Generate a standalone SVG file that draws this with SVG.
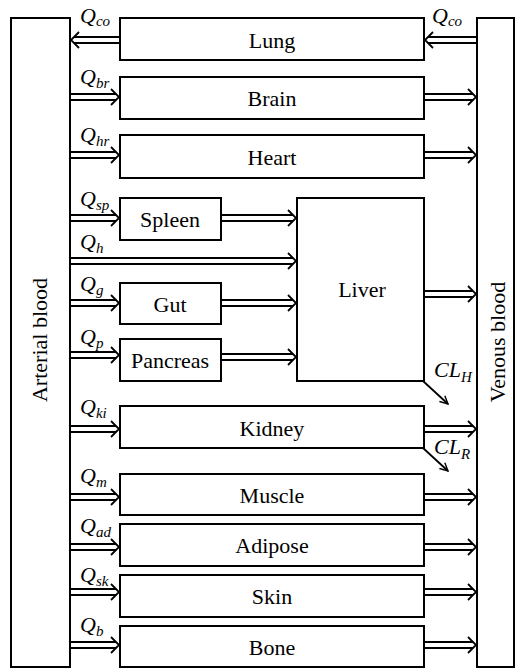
<svg xmlns="http://www.w3.org/2000/svg" width="525" height="670" viewBox="0 0 525 670">
<defs>
<style>
.box{fill:#fff;stroke:#000;stroke-width:2}
.lbl{font-family:'Liberation Serif','Times New Roman','DejaVu Serif',serif;font-size:22px;text-anchor:middle;dominant-baseline:central;fill:#000}
.q{font-family:'Liberation Serif','Times New Roman','DejaVu Serif',serif;font-style:italic;font-size:22px;fill:#000}
.sub{font-size:15px}
.arr{fill:none;stroke:#000;stroke-width:1.8}
</style>
<marker id="open" viewBox="0 0 10 10" refX="9" refY="5" markerWidth="10" markerHeight="10" markerUnits="userSpaceOnUse" orient="auto">
<path d="M1,1 L9,5 L1,9" fill="none" stroke="#000" stroke-width="1.4"/>
</marker>
</defs>
<rect width="525" height="670" fill="#fff"/>

<g id="arterial"><rect class="box" x="11" y="18" width="59" height="649"/>
<text class="lbl" transform="translate(39,340) rotate(-90)">Arterial blood</text></g>
<g id="venous"><rect class="box" x="477" y="18" width="37" height="649"/>
<text class="lbl" transform="translate(497,342) rotate(-90)">Venous blood</text></g>

<g id="lung"><rect class="box" x="120" y="18" width="304" height="42"/><text class="lbl" x="272" y="40">Lung</text></g>
<g id="brain"><rect class="box" x="120" y="77" width="304" height="42"/><text class="lbl" x="272" y="98">Brain</text></g>
<g id="heart"><rect class="box" x="120" y="135" width="304" height="43"/><text class="lbl" x="272" y="157">Heart</text></g>
<g id="spleen"><rect class="box" x="120" y="198" width="101" height="42"/><text class="lbl" x="170" y="219">Spleen</text></g>
<g id="gut"><rect class="box" x="120" y="283" width="101" height="41"/><text class="lbl" x="170" y="304">Gut</text></g>
<g id="pancreas"><rect class="box" x="120" y="339" width="101" height="42"/><text class="lbl" x="170" y="360">Pancreas</text></g>
<g id="liver"><rect class="box" x="297" y="198" width="127" height="183"/><text class="lbl" x="362" y="289">Liver</text></g>
<g id="kidney"><rect class="box" x="120" y="406" width="304" height="42"/><text class="lbl" x="272" y="428">Kidney</text></g>
<g id="muscle"><rect class="box" x="120" y="474" width="304" height="41"/><text class="lbl" x="272" y="495">Muscle</text></g>
<g id="adipose"><rect class="box" x="120" y="524" width="304" height="42"/><text class="lbl" x="272" y="545">Adipose</text></g>
<g id="skin"><rect class="box" x="120" y="575" width="304" height="42"/><text class="lbl" x="272" y="596">Skin</text></g>
<g id="bone"><rect class="box" x="120" y="626" width="304" height="41"/><text class="lbl" x="272" y="647">Bone</text></g>

<g id="connectors">
<path class="arr" d="M120,37 H74 M120,43 H74 M79,32 L71,40 L79,48"/>
<path class="arr" d="M477,37 H428 M477,43 H428 M433,32 L425,40 L433,48"/>
<path class="arr" d="M70,94 H116 M70,100 H116 M111,89 L119,97 L111,105"/>
<path class="arr" d="M70,152 H116 M70,158 H116 M111,147 L119,155 L111,163"/>
<path class="arr" d="M70,215 H116 M70,221 H116 M111,210 L119,218 L111,226"/>
<path class="arr" d="M70,300 H116 M70,306 H116 M111,295 L119,303 L111,311"/>
<path class="arr" d="M70,352 H116 M70,358 H116 M111,347 L119,355 L111,363"/>
<path class="arr" d="M70,426 H116 M70,432 H116 M111,421 L119,429 L111,437"/>
<path class="arr" d="M70,494 H116 M70,500 H116 M111,489 L119,497 L111,505"/>
<path class="arr" d="M70,544 H116 M70,550 H116 M111,539 L119,547 L111,555"/>
<path class="arr" d="M70,589 H116 M70,595 H116 M111,584 L119,592 L111,600"/>
<path class="arr" d="M70,642 H116 M70,648 H116 M111,637 L119,645 L111,653"/>
<path class="arr" d="M221,215 H293 M221,221 H293 M288,210 L296,218 L288,226"/>
<path class="arr" d="M70,258 H293 M70,264 H293 M288,253 L296,261 L288,269"/>
<path class="arr" d="M221,300 H293 M221,306 H293 M288,295 L296,303 L288,311"/>
<path class="arr" d="M221,354 H293 M221,360 H293 M288,349 L296,357 L288,365"/>
<path class="arr" d="M424,94 H473 M424,100 H473 M468,89 L476,97 L468,105"/>
<path class="arr" d="M424,152 H473 M424,158 H473 M468,147 L476,155 L468,163"/>
<path class="arr" d="M424,291 H473 M424,297 H473 M468,286 L476,294 L468,302"/>
<path class="arr" d="M424,426 H473 M424,432 H473 M468,421 L476,429 L468,437"/>
<path class="arr" d="M424,494 H473 M424,500 H473 M468,489 L476,497 L468,505"/>
<path class="arr" d="M424,544 H473 M424,550 H473 M468,539 L476,547 L468,555"/>
<path class="arr" d="M424,589 H473 M424,595 H473 M468,584 L476,592 L468,600"/>
<path class="arr" d="M424,642 H473 M424,648 H473 M468,637 L476,645 L468,653"/>
<path class="arr" d="M423,381 L448,404" marker-end="url(#open)"/>
<path class="arr" d="M423,448 L448,471" marker-end="url(#open)"/>
</g>

<g id="labels">
<text class="q" x="80" y="23">Q<tspan class="sub" dy="3">co</tspan></text>
<text class="q" x="432" y="23">Q<tspan class="sub" dy="3">co</tspan></text>
<text class="q" x="80" y="84">Q<tspan class="sub" dy="4">br</tspan></text>
<text class="q" x="80" y="142">Q<tspan class="sub" dy="4">hr</tspan></text>
<text class="q" x="80" y="206">Q<tspan class="sub" dy="4">sp</tspan></text>
<text class="q" x="80" y="249">Q<tspan class="sub" dy="4">h</tspan></text>
<text class="q" x="80" y="291">Q<tspan class="sub" dy="4">g</tspan></text>
<text class="q" x="80" y="344">Q<tspan class="sub" dy="4">p</tspan></text>
<text class="q" x="80" y="414">Q<tspan class="sub" dy="4">ki</tspan></text>
<text class="q" x="80" y="483">Q<tspan class="sub" dy="4">m</tspan></text>
<text class="q" x="80" y="533">Q<tspan class="sub" dy="4">ad</tspan></text>
<text class="q" x="80" y="582">Q<tspan class="sub" dy="4">sk</tspan></text>
<text class="q" x="80" y="632">Q<tspan class="sub" dy="4">b</tspan></text>
<text class="q" x="434" y="377">CL<tspan class="sub" dy="5">H</tspan></text>
<text class="q" x="434" y="454">CL<tspan class="sub" dy="5">R</tspan></text>
</g>
</svg>
